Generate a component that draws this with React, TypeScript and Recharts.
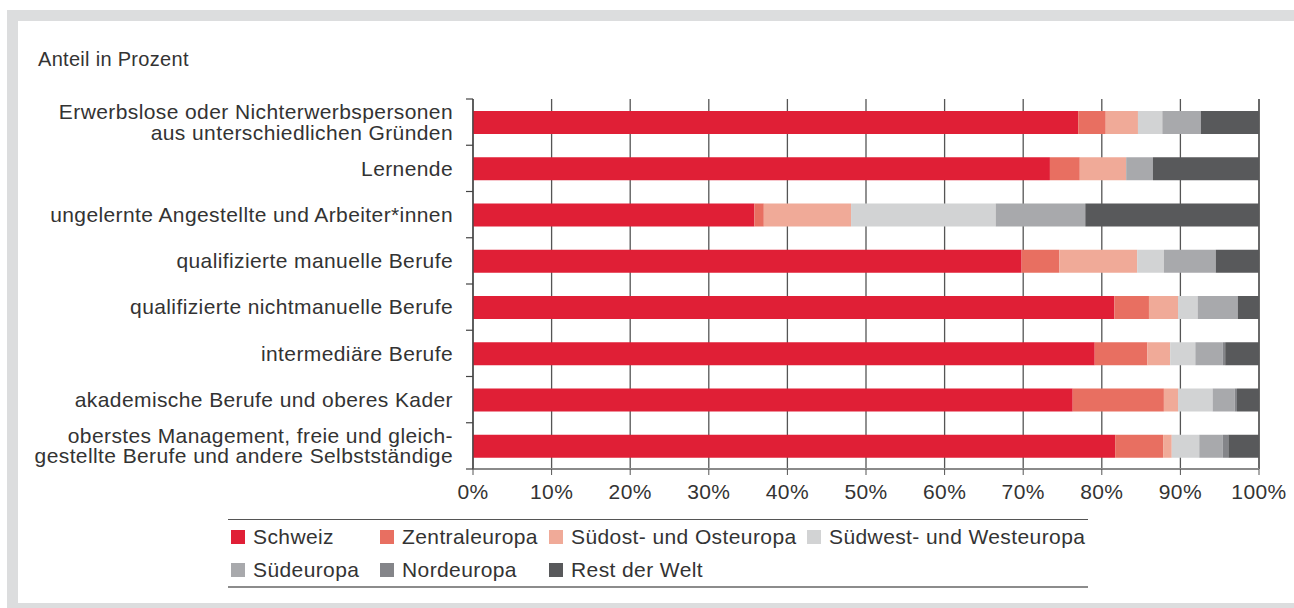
import { BarChart, Bar, XAxis, YAxis, CartesianGrid, Legend } from "recharts";

const CATEGORIES = [
  "Erwerbslose oder Nichterwerbspersonen\naus unterschiedlichen Gründen",
  "Lernende",
  "ungelernte Angestellte und Arbeiter*innen",
  "qualifizierte manuelle Berufe",
  "qualifizierte nichtmanuelle Berufe",
  "intermediäre Berufe",
  "akademische Berufe und oberes Kader",
  "oberstes Management, freie und gleich-\ngestellte Berufe und andere Selbstständige",
];

const SCHWEIZ = [77.0, 73.4, 35.8, 69.8, 81.6, 79.1, 76.3, 81.7];
const ZENTRAL = [3.5, 3.8, 1.2, 4.8, 4.4, 6.7, 11.6, 6.1];
const SUEDOST = [4.1, 5.9, 11.1, 9.9, 3.7, 2.9, 1.8, 1.1];
const SUEDWEST = [3.1, 0, 18.4, 3.4, 2.5, 3.2, 4.4, 3.5];
const SUED = [4.9, 3.4, 11.4, 6.6, 5.1, 3.5, 2.8, 3.0];
const NORD = [0, 0, 0, 0, 0, 0.3, 0.3, 0.7];
const REST = [7.4, 13.5, 22.1, 5.5, 2.7, 4.3, 2.8, 3.9];

const X_TICKS = [0, 10, 20, 30, 40, 50, 60, 70, 80, 90, 100];

const SERIES = [
  { key: "schweiz", name: "Schweiz", color: "#e01f36", values: SCHWEIZ },
  { key: "zentral", name: "Zentraleuropa", color: "#e86f61", values: ZENTRAL },
  { key: "suedost", name: "Südost- und Osteuropa", color: "#f0aa98", values: SUEDOST },
  { key: "suedwest", name: "Südwest- und Westeuropa", color: "#d2d3d4", values: SUEDWEST },
  { key: "sued", name: "Südeuropa", color: "#a8a9ac", values: SUED },
  { key: "nord", name: "Nordeuropa", color: "#848589", values: NORD },
  { key: "rest", name: "Rest der Welt", color: "#58595b", values: REST },
];

const data = CATEGORIES.map((name, i) => {
  const row: Record<string, any> = { name };
  SERIES.forEach((s) => (row[s.key] = s.values[i]));
  return row;
});

const FONT = "'Liberation Sans', Arial, sans-serif";
const TEXT = "#333";
const TICK_SIZE = 7;
const TICK_MARGIN = 13;

const CategoryTick = (props: any) => {
  const { x, y, payload, index } = props;
  const lines = String(payload.value).split("\n");
  const off = payload.offset || 23.125;
  const axisX = x + TICK_SIZE + TICK_MARGIN;
  const lh = 20.5;
  return (
    <g>
      <line x1={axisX - TICK_SIZE} x2={axisX} y1={y - off} y2={y - off} stroke="#444" strokeWidth={1.2} />
      {index === CATEGORIES.length - 1 && (
        <line x1={axisX - TICK_SIZE} x2={axisX} y1={y + off} y2={y + off} stroke="#444" strokeWidth={1.2} />
      )}
      <text
        x={x}
        y={y - ((lines.length - 1) * lh) / 2}
        textAnchor="end"
        fill={TEXT}
        fontSize={21}
        fontFamily={FONT}
        letterSpacing={0.4}
      >
        {lines.map((l, i) => (
          <tspan key={i} x={x} dy={i === 0 ? "0.35em" : lh}>
            {l}
          </tspan>
        ))}
      </text>
    </g>
  );
};

const LegendContent = () => (
  <div
    style={{
      borderTop: "1px solid #555",
      borderBottom: "2px solid #8c8c8c",
      display: "grid",
      gridTemplateColumns: "149px 169px 258px auto",
      paddingLeft: 3,
      fontFamily: FONT,
      fontSize: 21,
      letterSpacing: 0.4,
      color: TEXT,
    }}
  >
    {SERIES.map((s) => (
      <div key={s.key} style={{ display: "flex", alignItems: "center", height: 33, whiteSpace: "nowrap" }}>
        <span style={{ width: 14, height: 14, background: s.color, marginRight: 8, flexShrink: 0 }} />
        {s.name}
      </div>
    ))}
  </div>
);

export default function App() {
  return (
    <div style={{ position: "absolute", left: 0, top: 0, width: 1294, height: 608, background: "#fff", overflow: "hidden" }}>
      <div
        style={{
          position: "absolute",
          left: 7,
          top: 10,
          width: 1287,
          height: 598,
          boxSizing: "border-box",
          borderTop: "11px solid #dcddde",
          borderLeft: "11px solid #dcddde",
          borderBottom: "5px solid #dcddde",
        }}
      />
      <div
        style={{
          position: "absolute",
          left: 38,
          top: 47,
          fontFamily: FONT,
          fontSize: 20,
          letterSpacing: 0.3,
          color: TEXT,
          lineHeight: "24px",
        }}
      >
        Anteil in Prozent
      </div>
      <div style={{ position: "absolute", left: 0, top: 0 }}>
        <BarChart
          width={1294}
          height={608}
          data={data}
          layout="vertical"
          margin={{ top: 99, right: 35, bottom: 99, left: 0 }}
          barSize={23}
        >
          <CartesianGrid horizontal={false} vertical stroke="#555" strokeWidth={1.3} />
          <XAxis
            type="number"
            domain={[0, 100]}
            ticks={X_TICKS}
            tickFormatter={(v) => `${v}%`}
            height={40}
            axisLine={{ stroke: "#8a8a8a", strokeWidth: 2 }}
            tickLine={{ stroke: "#555" }}
            tickSize={6}
            tickMargin={9}
            tick={{ fill: TEXT, fontSize: 21, fontFamily: FONT, letterSpacing: 0.4 }}
          />
          <YAxis
            type="category"
            dataKey="name"
            width={473}
            axisLine={{ stroke: "#444", strokeWidth: 1.3 }}
            tickLine={false}
            tickSize={TICK_SIZE}
            tickMargin={TICK_MARGIN}
            tick={<CategoryTick />}
            interval={0}
          />
          {SERIES.map((s) => (
            <Bar key={s.key} dataKey={s.key} name={s.name} stackId="a" fill={s.color} isAnimationActive={false} />
          ))}
          <Legend
            layout="horizontal"
            verticalAlign="middle"
            align="center"
            content={<LegendContent />}
            wrapperStyle={{ left: 228, top: 519, width: 860, bottom: "auto" }}
          />
        </BarChart>
      </div>
    </div>
  );
}
